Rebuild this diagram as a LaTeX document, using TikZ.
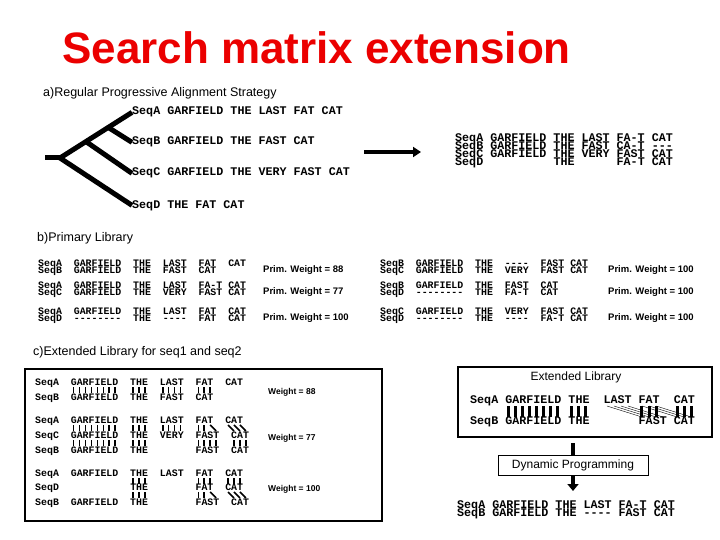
\documentclass[tikz,border=0pt]{standalone}
\usepackage{fontspec}
\setmainfont{Liberation Sans}
\newfontfamily\seqfont[Ligatures=TeXOff]{Liberation Mono}
\usetikzlibrary{arrows.meta}
\definecolor{titlered}{RGB}{235,0,0}
% column centres in the alignment blocks
\newcommand{\cx}[1]{35+(#1+.5)*5.94}
\newcommand{\ex}[1]{470+(#1+.5)*7.02}
\begin{document}
\begin{tikzpicture}[x=1pt,y=-1pt,
    seqbig/.style={font=\seqfont\bfseries\fontsize{11.7}{12}\selectfont, anchor=base west, inner sep=0pt},
    seqsm/.style={font=\seqfont\bfseries\fontsize{9.9}{10}\selectfont, anchor=base west, inner sep=0pt},
    head/.style={font=\fontsize{12.5}{14}\selectfont, anchor=west, inner sep=0pt},
    prim/.style={font=\bfseries\fontsize{9.5}{11}\selectfont, anchor=west, inner sep=0pt},
    wgt/.style={font=\bfseries\fontsize{8.5}{10}\selectfont, anchor=west, inner sep=0pt},
    branch/.style={line width=5pt},
    bar/.style={line width=1.6pt},
    fatbar/.style={line width=3pt},
    shaft/.style={line width=4pt}]
    \useasboundingbox (0,0) rectangle (720,540);
    \fill[white] (0,0) rectangle (720,540);

    \node[font=\bfseries\fontsize{44}{48}\selectfont, text=titlered, anchor=base west, inner sep=0pt] (title) at (62,64) {Search matrix extension};

    % a) tree and the alignment it gives
    \node[head] (hda) at (43,93) {a)Regular Progressive Alignment Strategy};
    \node[seqbig] (ta) at (132,115) {SeqA GARFIELD THE LAST FAT CAT};
    \node[seqbig] (tb) at (132,145) {SeqB GARFIELD THE FAST CAT};
    \node[seqbig] (tc) at (132,176) {SeqC GARFIELD THE VERY FAST CAT};
    \node[seqbig] (td) at (132,208) {SeqD THE FAT CAT};
    \coordinate (root) at (60,158);
    \coordinate (stem) at (45,158);
    \path (root) -- (ta.mid west) coordinate[pos=.36] (jc) coordinate[pos=.67] (jb);
    \draw[branch] (ta.mid west) -- (root) -- (td.mid west);
    \draw[branch] (stem) -- (root);
    \draw[branch] (jc) -- (tc.mid west);
    \draw[branch] (jb) -- (tb.mid west);

    \coordinate (arrs) at (364,152);
    \coordinate (arre) at (421,152);
    \draw[shaft,-{Triangle[length=8pt,width=10pt]}] (arrs) -- (arre);

    \node[seqbig] (ra) at (455,142) {SeqA GARFIELD THE LAST FA-T CAT};
    \node[seqbig] (rb) at (455,150) {SeqB GARFIELD THE FAST CA-T ---};
    \node[seqbig] (rc) at (455,158) {SeqC GARFIELD THE VERY FAST CAT};
    \node[seqbig] (rd) at (455,166) {SeqD~~~~~~~~~~THE~~~~~~FA-T CAT};

    % b) primary library
    \node[head] (hdb) at (37,238) {b)Primary Library};
    \node[seqsm] (p1a) at (38,266) {SeqA~~GARFIELD~~THE~~LAST~~FAT~~CAT};
    \node[seqsm] (p1b) at (38,273) {SeqB~~GARFIELD~~THE~~FAST~~CAT};
    \node[prim] (w1) at (263,270) {Prim. Weight = 88};
    \node[seqsm] (p2a) at (38,288) {SeqA~~GARFIELD~~THE~~LAST~~FA-T~CAT};
    \node[seqsm] (p2b) at (38,295) {SeqC~~GARFIELD~~THE~~VERY~~FAST~CAT};
    \node[prim] (w2) at (263,292) {Prim. Weight = 77};
    \node[seqsm] (p3a) at (38,314) {SeqA~~GARFIELD~~THE~~LAST~~FAT~~CAT};
    \node[seqsm] (p3b) at (38,321) {SeqD~~--------~~THE~~----~~FAT~~CAT};
    \node[prim] (w3) at (263,318) {Prim. Weight = 100};

    \node[seqsm] (p4a) at (380,266) {SeqB~~GARFIELD~~THE~~----~~FAST~CAT};
    \node[seqsm] (p4b) at (380,273) {SeqC~~GARFIELD~~THE~~VERY~~FAST~CAT};
    \node[prim] (w4) at (608,270) {Prim. Weight = 100};
    \node[seqsm] (p5a) at (380,288) {SeqB~~GARFIELD~~THE~~FAST~~CAT};
    \node[seqsm] (p5b) at (380,295) {SeqD~~--------~~THE~~FA-T~~CAT};
    \node[prim] (w5) at (608,292) {Prim. Weight = 100};
    \node[seqsm] (p6a) at (380,314) {SeqC~~GARFIELD~~THE~~VERY~~FAST~CAT};
    \node[seqsm] (p6b) at (380,321) {SeqD~~--------~~THE~~----~~FA-T~CAT};
    \node[prim] (w6) at (608,318) {Prim. Weight = 100};

    % c) extended library
    \node[head] (hdc) at (33,352) {c)Extended Library for seq1 and seq2};
    \draw[line width=2.5pt] (25,369) rectangle (382,521);

    \node[seqsm] (e1a) at (35,385) {SeqA~~GARFIELD~~THE~~LAST~~FAT~~CAT};
    \node[seqsm] (e1b) at (35,400) {SeqB~~GARFIELD~~THE~~FAST~~CAT};
    \foreach \c in {6,...,13,16,17,18,21,22,23,24,27,28,29}
        \draw[bar] ({\cx{\c}},387) -- ++(0,6);
    \node[wgt] (e1w) at (268,392) {Weight = 88};

    \node[seqsm] (e2a) at (35,423) {SeqA~~GARFIELD~~THE~~LAST~~FAT~~CAT};
    \node[seqsm] (e2c) at (35,438) {SeqC~~GARFIELD~~THE~~VERY~~FAST~~CAT};
    \node[seqsm] (e2b) at (35,453) {SeqB~~GARFIELD~~THE~~~~~~~~FAST~~CAT};
    \foreach \c in {6,...,13,16,17,18,21,22,23,24,27,28}
        \draw[bar] ({\cx{\c}},425) -- ++(0,6);
    \foreach \c in {29,32,33,34}
        \draw[bar] ({\cx{\c}},425) -- ++(5.94,6);
    \foreach \c in {6,...,13,16,17,18,27,28,29,30,33,34,35}
        \draw[bar] ({\cx{\c}},440) -- ++(0,6);
    \node[wgt] (e2w) at (268,438) {Weight = 77};

    \node[seqsm] (e3a) at (35,476) {SeqA~~GARFIELD~~THE~~LAST~~FAT~~CAT};
    \node[seqsm] (e3d) at (35,490) {SeqD~~~~~~~~~~~~THE~~~~~~~~FAT~~CAT};
    \node[seqsm] (e3b) at (35,505) {SeqB~~GARFIELD~~THE~~~~~~~~FAST~~CAT};
    \foreach \c in {16,17,18,27,28,29,32,33,34}
        \draw[bar] ({\cx{\c}},478) -- ++(0,6);
    \foreach \c in {16,17,18,27,28}
        \draw[bar] ({\cx{\c}},492) -- ++(0,6);
    \foreach \c in {29,32,33,34}
        \draw[bar] ({\cx{\c}},492) -- ++(5.94,6);
    \node[wgt] (e3w) at (268,489) {Weight = 100};

    % extended library -> dynamic programming
    \draw[line width=2pt] (458,367) rectangle (712,437);
    \node[font=\fontsize{12}{14}\selectfont] (xtitle) at (576,377) {Extended Library};
    \node[seqbig] (xa) at (470,403) {SeqA GARFIELD THE~~LAST FAT~~CAT};
    \node[seqbig] (xb) at (470,424) {SeqB GARFIELD THE~~~~~~~FAST CAT};
    \foreach \c in {5,...,12,14,15,16,24,25,26,29,30,31}
        \draw[fatbar] ({\ex{\c}},406) -- ++(0,11);
    \foreach \c in {19,...,22,24,25,26}
        \draw[thin] ({\ex{\c}},406) -- ++(35.1,11);

    \node[draw, line width=0.8pt, minimum width=150, minimum height=20,
        font=\fontsize{12}{14}\selectfont] (dp) at (573,465) {Dynamic Programming};
    \coordinate (xout) at (573,443);
    \coordinate (dpin) at (573,491);
    \draw[shaft] (xout) -- (dp.north);
    \draw[shaft,-{Triangle[length=7pt,width=11pt]}] (dp.south) -- (dpin);
    \node[seqbig] (oa) at (457,508) {SeqA GARFIELD THE LAST FA-T CAT};
    \node[seqbig] (ob) at (457,516) {SeqB GARFIELD THE ---- FAST CAT};
\end{tikzpicture}
\end{document}
